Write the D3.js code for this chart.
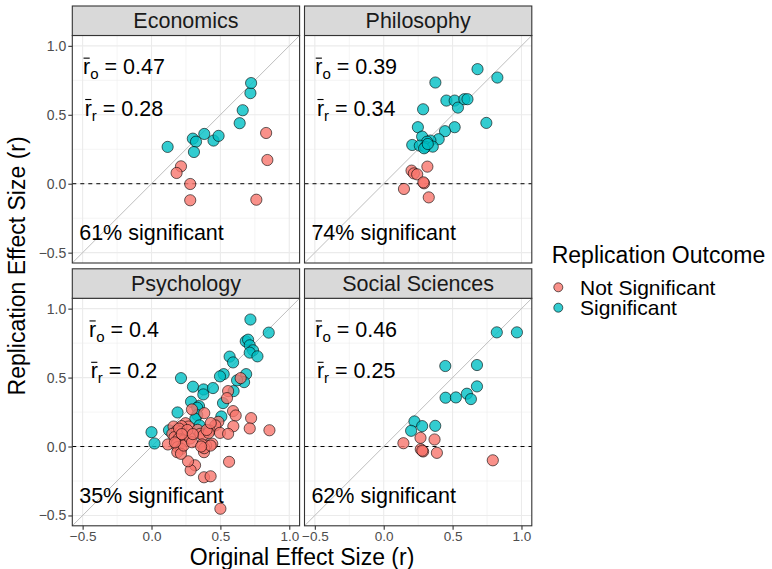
<!DOCTYPE html>
<html>
<head>
<meta charset="utf-8">
<script src="https://cdn.jsdelivr.net/npm/d3@7"></script>
<style>
  body { margin: 0; background: #fff; }
  text { font-family: "Liberation Sans", Arial, sans-serif; }
</style>
</head>
<body>
<script>
var w = 772;
var h = 569;

// facet labels and annotations
var fields = ["Economics", "Philosophy", "Psychology", "Social Sciences"];
var meanOrig = ["0.47", "0.39", "0.4", "0.46"];
var meanRep = ["0.28", "0.34", "0.2", "0.25"];
var pctSig = ["61%", "74%", "35%", "62%"];
var outcomes = ["Not Significant", "Significant"];
var colors = ["#F8766D", "#00BFC4"];
var ticks = [-0.5, 0, 0.5, 1];
var minorTicks = [-0.25, 0.25, 0.75];

// [original r, replication r, significant?]
var economics = [
    [0.117, 0.267, 1], [0.30, 0.327, 1], [0.323, 0.305, 1], [0.308, 0.23, 1],
    [0.383, 0.361, 1], [0.45, 0.313, 1], [0.487, 0.347, 1], [0.64, 0.439, 1],
    [0.662, 0.533, 1], [0.718, 0.657, 1], [0.723, 0.73, 1],
    [0.214, 0.126, 0], [0.182, 0.078, 0], [0.281, -0.002, 0], [0.281, -0.12, 0],
    [0.761, -0.116, 0], [0.832, 0.368, 0], [0.841, 0.172, 0]
];
var philosophy = [
    [0.681, 0.831, 1], [0.825, 0.77, 1], [0.375, 0.734, 1], [0.455, 0.603, 1],
    [0.515, 0.603, 1], [0.539, 0.552, 1], [0.585, 0.613, 1], [0.608, 0.613, 1],
    [0.286, 0.54, 1], [0.745, 0.441, 1], [0.515, 0.41, 1], [0.445, 0.381, 1],
    [0.248, 0.41, 1], [0.279, 0.342, 1], [0.399, 0.323, 1], [0.339, 0.313, 1],
    [0.315, 0.305, 1], [0.207, 0.281, 1], [0.262, 0.276, 1], [0.303, 0.267, 1],
    [0.356, 0.269, 1], [0.293, 0.257, 1], [0.32, 0.288, 1],
    [0.317, 0.124, 0], [0.202, 0.095, 0], [0.219, 0.075, 0], [0.243, 0.068, 0],
    [0.293, 0.003, 0], [0.288, 0.01, 0], [0.147, -0.038, 0], [0.327, -0.099, 0]
];
var psychology = [
    [0.718, 0.921, 1], [0.851, 0.826, 1], [0.684, 0.763, 1], [0.701, 0.775, 1],
    [0.713, 0.734, 1], [0.737, 0.698, 1], [0.713, 0.681, 1], [0.769, 0.654, 1],
    [0.567, 0.652, 1], [0.592, 0.61, 1], [0.524, 0.525, 1], [0.497, 0.509, 1],
    [0.687, 0.525, 1], [0.672, 0.467, 1], [0.621, 0.48, 1], [0.596, 0.402, 1],
    [0.214, 0.496, 1], [0.301, 0.434, 1], [0.378, 0.414, 1], [0.376, 0.378, 1],
    [0.446, 0.424, 1], [0.287, 0.325, 1], [0.519, 0.315, 1], [0.345, 0.293, 1],
    [0.332, 0.281, 1], [0.189, 0.247, 1], [0.332, 0.228, 1], [0.318, 0.201, 1],
    [0.507, 0.218, 1], [0.349, 0.153, 1], [0.127, 0.118, 1], [0.0, 0.104, 1],
    [0.022, 0.022, 1],
    [0.647, 0.496, 0], [0.556, 0.402, 0], [0.548, 0.351, 0], [0.383, 0.242, 0],
    [0.294, 0.269, 0], [0.592, 0.257, 0], [0.611, 0.225, 0], [0.723, 0.206, 0],
    [0.713, 0.131, 0], [0.856, 0.118, 0], [0.594, 0.147, 0], [0.485, 0.179, 0],
    [0.463, 0.153, 0], [0.422, 0.116, 0], [0.497, 0.099, 0], [0.556, 0.092, 0],
    [0.563, -0.111, 0], [0.5, -0.451, 0], [0.381, -0.223, 0], [0.429, -0.216, 0],
    [0.316, -0.136, 0], [0.284, -0.172, 0], [0.265, -0.107, 0], [0.247, 0.169, 0],
    [0.269, 0.145, 0], [0.218, 0.148, 0], [0.16, 0.145, 0], [0.185, 0.116, 0],
    [0.151, 0.092, 0], [0.211, 0.107, 0], [0.245, 0.087, 0], [0.167, 0.068, 0],
    [0.196, 0.056, 0], [0.233, 0.044, 0], [0.119, 0.015, 0], [0.182, 0.02, 0],
    [0.189, -0.005, 0], [0.216, -0.017, 0], [0.187, -0.041, 0], [0.214, -0.053, 0],
    [0.233, 0.007, 0], [0.335, 0.121, 0], [0.354, 0.092, 0], [0.376, 0.08, 0],
    [0.415, 0.099, 0], [0.441, 0.02, 0], [0.396, 0.007, 0], [0.367, 0.015, 0],
    [0.381, -0.041, 0], [0.383, -0.012, 0], [0.429, 0.007, 0], [0.281, 0.058, 0],
    [0.294, 0.031, 0], [0.2, 0.13, 0], [0.17, 0.03, 0], [0.26, 0.12, 0],
    [0.4, 0.12, 0], [0.36, 0.0, 0], [0.22, 0.09, 0], [0.3, 0.09, 0], [0.43, 0.17, 0]
];
var socialSciences = [
    [0.821, 0.828, 1], [0.967, 0.828, 1], [0.447, 0.584, 1], [0.677, 0.591, 1],
    [0.677, 0.436, 1], [0.449, 0.354, 1], [0.524, 0.356, 1], [0.604, 0.383, 1],
    [0.633, 0.344, 1], [0.223, 0.182, 1], [0.279, 0.148, 1], [0.374, 0.15, 1],
    [0.199, 0.114, 1],
    [0.143, 0.024, 0], [0.267, 0.063, 0], [0.369, 0.051, 0], [0.269, -0.02, 0],
    [0.286, -0.036, 0], [0.28, -0.03, 0], [0.386, -0.046, 0], [0.792, -0.1, 0]
];
var panelData = [economics, philosophy, psychology, socialSciences];

var lim = [-0.575, 1.075];
var colX = [72.3, 304.5];
var rowY = [35.5, 298.3];
var pw = 227.3;
var ph = 227.5;
var stripH = 29.5;
var annoSize = 21.5;

var svg = d3.select("body")
    .append("svg")
    .attr("width", w)
    .attr("height", h);

// r with a bar, a subscript and " = value"
function barLabel(g, x, y, sub, value) {
    var t = g.append("text")
        .attr("x", x).attr("y", y)
        .attr("dy", "0.36em").attr("text-anchor", "middle")
        .attr("font-size", annoSize).attr("fill", "#000");
    t.append("tspan").text("r");
    t.append("tspan").attr("font-size", 15).attr("dy", 5).text(sub);
    t.append("tspan").attr("dy", -5).text(" = " + value);
    var ext = t.node().getExtentOfChar(0);
    var top = ext.y + ext.height * 0.12;
    g.append("line")
        .attr("x1", ext.x + 0.5).attr("x2", ext.x + ext.width - 0.5)
        .attr("y1", top).attr("y2", top)
        .attr("stroke", "#000").attr("stroke-width", 1.1);
}

fields.forEach((field, i) => {
    var col = i % 2;
    var row = Math.floor(i / 2);
    var xScale = d3.scaleLinear().domain(lim).range([colX[col], colX[col] + pw]);
    var yScale = d3.scaleLinear().domain(lim).range([rowY[row] + ph, rowY[row]]);
    var g = svg.append("g");

    // grid
    g.selectAll(".minx").data(minorTicks).enter().append("line")
        .attr("x1", d => xScale(d)).attr("x2", d => xScale(d))
        .attr("y1", rowY[row]).attr("y2", rowY[row] + ph)
        .attr("stroke", "#EBEBEB").attr("stroke-width", 0.55);
    g.selectAll(".miny").data(minorTicks).enter().append("line")
        .attr("y1", d => yScale(d)).attr("y2", d => yScale(d))
        .attr("x1", colX[col]).attr("x2", colX[col] + pw)
        .attr("stroke", "#EBEBEB").attr("stroke-width", 0.55);
    g.selectAll(".majx").data(ticks).enter().append("line")
        .attr("x1", d => xScale(d)).attr("x2", d => xScale(d))
        .attr("y1", rowY[row]).attr("y2", rowY[row] + ph)
        .attr("stroke", "#EBEBEB").attr("stroke-width", 1.1);
    g.selectAll(".majy").data(ticks).enter().append("line")
        .attr("y1", d => yScale(d)).attr("y2", d => yScale(d))
        .attr("x1", colX[col]).attr("x2", colX[col] + pw)
        .attr("stroke", "#EBEBEB").attr("stroke-width", 1.1);

    // y = x and zero line
    g.append("line")
        .attr("x1", xScale(lim[0])).attr("y1", yScale(lim[0]))
        .attr("x2", xScale(lim[1])).attr("y2", yScale(lim[1]))
        .attr("stroke", "#BEBEBE").attr("stroke-width", 1);
    g.append("line")
        .attr("x1", colX[col]).attr("x2", colX[col] + pw)
        .attr("y1", yScale(0)).attr("y2", yScale(0))
        .attr("stroke", "#000").attr("stroke-width", 1)
        .attr("stroke-dasharray", "4,4");

    // points
    g.selectAll("circle")
        .data(panelData[i])
        .enter()
        .append("circle")
        .attr("cx", d => xScale(d[0]))
        .attr("cy", d => yScale(d[1]))
        .attr("r", 5.6)
        .attr("fill", d => colors[d[2]])
        .attr("fill-opacity", 0.8)
        .attr("stroke", "#000")
        .attr("stroke-width", 0.6);

    // annotations
    barLabel(g, xScale(-0.2), yScale(0.85), "o", meanOrig[i]);
    barLabel(g, xScale(-0.2), yScale(0.55), "r", meanRep[i]);

    g.append("text")
        .attr("x", xScale(0)).attr("y", yScale(-0.35))
        .attr("dy", "0.36em").attr("text-anchor", "middle")
        .attr("font-size", annoSize).attr("fill", "#000")
        .text(pctSig[i] + " significant");

    // border
    g.append("rect")
        .attr("x", colX[col]).attr("y", rowY[row])
        .attr("width", pw).attr("height", ph)
        .attr("fill", "none").attr("stroke", "#333333").attr("stroke-width", 1.1);

    // strip
    g.append("rect")
        .attr("x", colX[col]).attr("y", rowY[row] - stripH)
        .attr("width", pw).attr("height", stripH)
        .attr("fill", "#D9D9D9").attr("stroke", "#333333").attr("stroke-width", 1.1);
    g.append("text")
        .attr("x", colX[col] + pw / 2).attr("y", rowY[row] - stripH / 2)
        .attr("dy", "0.36em").attr("text-anchor", "middle")
        .attr("font-size", 21.5).attr("fill", "#1A1A1A")
        .text(field);

    // axes
    if (col === 0) {
        var yAxis = d3.axisLeft(yScale).tickValues(ticks).tickSize(4).tickPadding(2)
            .tickFormat(d3.format(".1f"));
        var ya = g.append("g").attr("transform", "translate(" + colX[col] + ",0)").call(yAxis);
        ya.select(".domain").remove();
        ya.selectAll("line").attr("stroke", "#333333").attr("stroke-width", 1.1);
        ya.selectAll("text").attr("font-size", 14).attr("fill", "#4D4D4D")
            .attr("font-family", "Liberation Sans, Arial, sans-serif");
    }
    if (row === 1) {
        var xAxis = d3.axisBottom(xScale).tickValues(ticks).tickSize(4).tickPadding(2)
            .tickFormat(d3.format(".1f"));
        var xa = g.append("g").attr("transform", "translate(0," + (rowY[row] + ph) + ")").call(xAxis);
        xa.select(".domain").remove();
        xa.selectAll("line").attr("stroke", "#333333").attr("stroke-width", 1.1);
        xa.selectAll("text").attr("font-size", 13.5).attr("fill", "#4D4D4D")
            .attr("font-family", "Liberation Sans, Arial, sans-serif");
    }
});

// axis titles
svg.append("text")
    .attr("x", (colX[0] + colX[1] + pw) / 2).attr("y", 565)
    .attr("text-anchor", "middle").attr("font-size", 23)
    .text("Original Effect Size (r)");
svg.append("text")
    .attr("transform", "translate(25," + (rowY[0] - stripH + rowY[1] + ph) / 2 + ") rotate(-90)")
    .attr("text-anchor", "middle").attr("font-size", 23)
    .text("Replication Effect Size (r)");

// legend
var legend = svg.append("g");
legend.append("text")
    .attr("x", 551.7).attr("y", 263.3)
    .attr("font-size", 23)
    .text("Replication Outcome");
legend.selectAll("circle")
    .data(outcomes)
    .enter()
    .append("circle")
    .attr("cx", 558.3)
    .attr("cy", (d, i) => 287.3 + i * 20.4)
    .attr("r", 4.5)
    .attr("fill", (d, i) => colors[i])
    .attr("fill-opacity", 0.8)
    .attr("stroke", "#000")
    .attr("stroke-width", 0.6);
legend.selectAll(".lab")
    .data(outcomes)
    .enter()
    .append("text")
    .attr("x", 580)
    .attr("y", (d, i) => 287.3 + i * 20.4)
    .attr("dy", "0.36em")
    .attr("font-size", 21)
    .text(d => d);
</script>
</body>
</html>
